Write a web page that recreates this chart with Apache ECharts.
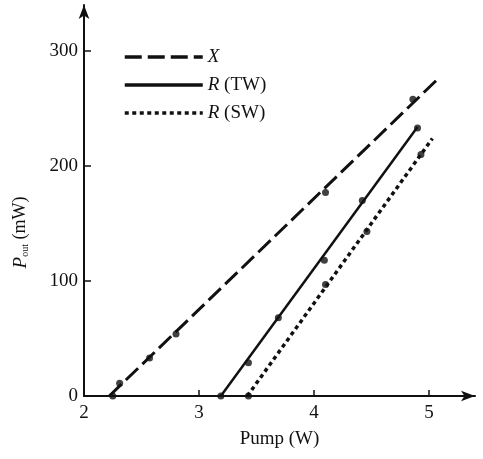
<!DOCTYPE html>
<html>
<head>
<meta charset="utf-8">
<script src="https://cdn.jsdelivr.net/npm/echarts@6/dist/echarts.min.js"></script>
<style>
  html, body { margin: 0; padding: 0; background: #fff; }
  #chart { width: 483px; height: 459px; }
</style>
</head>
<body>
<div id="chart"></div>
<script>
// fitted lines (pump W, output mW)
const lineX = [[2.22, 0], [5.08, 276]];
const lineTW = [[3.19, 0], [4.9, 234]];
const lineSW = [[3.42, 0], [5.03, 224]];

// measured points
const ptsX = [[2.25, 0], [2.31, 11], [2.57, 33], [2.8, 54], [4.1, 177], [4.86, 258]];
const ptsTW = [[3.19, 0], [3.43, 29], [3.69, 68], [4.09, 118], [4.42, 170], [4.9, 233]];
const ptsSW = [[3.43, 0], [4.1, 97], [4.46, 143], [4.93, 210]];

const serif = 'Liberation Serif, DejaVu Serif, serif';

const chart = echarts.init(document.getElementById('chart'));

const dots = data => ({
  type: 'scatter',
  data,
  symbolSize: 7,
  itemStyle: { color: '#111' },
  silent: true,
  z: 3
});

chart.setOption({
  backgroundColor: '#fff',
  animation: false,
  color: ['#111'],
  grid: { left: 84, right: 8, top: 5, bottom: 63 },
  legend: {
    orient: 'vertical',
    left: 118,
    top: 41,
    itemWidth: 78,
    itemHeight: 14,
    itemGap: 6,
    itemStyle: { opacity: 0 },
    lineStyle: { width: 3.5 },
    data: ['X', 'R(TW)', 'R(SW)'],
    textStyle: {
      fontFamily: serif,
      fontSize: 19,
      lineHeight: 22,
      color: '#111',
      rich: {
        i: { fontFamily: serif, fontStyle: 'italic', fontSize: 19, color: '#111' },
        n: { fontFamily: serif, fontSize: 19, color: '#111' }
      }
    },
    formatter: name => {
      if (name === 'X') return '{i|X}';
      return '{i|R}{n|' + name.slice(1).replace('(', ' (') + '}';
    }
  },
  xAxis: {
    type: 'value',
    min: 2,
    max: 5.4,
    interval: 1,
    name: 'Pump (W)',
    nameLocation: 'middle',
    nameGap: 34,
    nameTextStyle: { fontFamily: serif, fontSize: 19, color: '#111' },
    splitLine: { show: false },
    axisLine: { lineStyle: { color: '#111', width: 2 }, symbol: ['none', 'arrow'], symbolSize: [8, 14] },
    axisTick: { inside: true, length: 6, lineStyle: { color: '#111', width: 1.5 } },
    axisLabel: {
      fontFamily: serif, fontSize: 19, color: '#111', margin: 8,
      showMaxLabel: false,
      formatter: v => (Number.isInteger(v) ? String(v) : '')
    }
  },
  yAxis: {
    type: 'value',
    min: 0,
    max: 340,
    interval: 100,
    name: '{i|P}{s|out} (mW)',
    nameLocation: 'middle',
    nameGap: 54,
    nameRotate: 90,
    nameTextStyle: {
      fontFamily: serif, fontSize: 18, color: '#111',
      padding: [0, 64, 0, 0],
      rich: {
        i: { fontFamily: serif, fontStyle: 'italic', fontSize: 19, color: '#111' },
        s: { fontFamily: serif, fontSize: 10, color: '#111', verticalAlign: 'bottom', padding: [8, 0, 0, 0] }
      }
    },
    splitLine: { show: false },
    axisLine: { lineStyle: { color: '#111', width: 2 }, symbol: ['none', 'arrow'], symbolSize: [8, 14] },
    axisTick: { inside: true, length: 7, lineStyle: { color: '#111', width: 1.5 } },
    axisLabel: {
      fontFamily: serif, fontSize: 19, color: '#111', margin: 6,
      showMaxLabel: false,
      formatter: v => (v % 100 === 0 ? String(v) : '')
    }
  },
  series: [
    {
      name: 'X', type: 'line', data: lineX, symbol: 'none',
      itemStyle: { color: '#111' },
      lineStyle: { color: '#111', width: 3, type: [17, 6] }
    },
    {
      name: 'R(TW)', type: 'line', data: lineTW, symbol: 'none',
      itemStyle: { color: '#111' },
      lineStyle: { color: '#111', width: 2.5 }
    },
    {
      name: 'R(SW)', type: 'line', data: lineSW, symbol: 'none',
      itemStyle: { color: '#111' },
      lineStyle: { color: '#111', width: 3.5, type: [4, 3.5] }
    },
    dots(ptsX),
    dots(ptsTW),
    dots(ptsSW)
  ]
});
</script>
</body>
</html>
